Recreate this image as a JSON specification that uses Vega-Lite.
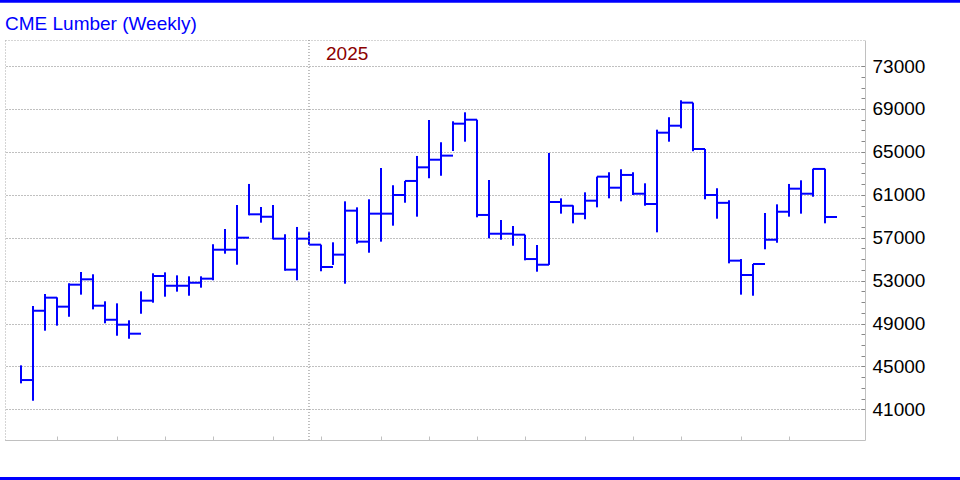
{
  "$schema": "https://vega.github.io/schema/vega-lite/v6.json",
  "width": 860,
  "height": 400,
  "autosize": {"type": "none"},
  "padding": {"left": 5, "top": 40, "right": 95, "bottom": 40},
  "background": "white",
  "title": {"text": "CME Lumber (Weekly)", "anchor": "start", "frame": "group", "color": "#0000ff", "font": "Liberation Sans", "fontSize": 19, "fontWeight": "normal", "baseline": "bottom", "offset": -53},
  "config": {"view": {"stroke": null}, "font": "Liberation Sans"},
  "datasets": {
    "bars": [
      {"week": 0, "high": 45100, "low": 43420, "close": 43730},
      {"week": 1, "high": 50630, "low": 41800, "close": 50190},
      {"week": 2, "high": 51750, "low": 48330, "close": 51410},
      {"week": 3, "high": 51440, "low": 48800, "close": 50570},
      {"week": 4, "high": 52750, "low": 49630, "close": 52620},
      {"week": 5, "high": 53800, "low": 51690, "close": 53120},
      {"week": 6, "high": 53590, "low": 50320, "close": 50660},
      {"week": 7, "high": 51070, "low": 49020, "close": 49350},
      {"week": 8, "high": 50880, "low": 47860, "close": 48890},
      {"week": 9, "high": 49300, "low": 47580, "close": 48050},
      {"week": 10, "high": 52000, "low": 49910, "close": 51130},
      {"week": 11, "high": 53680, "low": 50940, "close": 53430},
      {"week": 12, "high": 53770, "low": 51500, "close": 52520},
      {"week": 13, "high": 53490, "low": 51970, "close": 52520},
      {"week": 14, "high": 53400, "low": 51590, "close": 52800},
      {"week": 15, "high": 53400, "low": 52340, "close": 53180},
      {"week": 16, "high": 56390, "low": 53030, "close": 55880},
      {"week": 17, "high": 57810, "low": 55510, "close": 55880},
      {"week": 18, "high": 60050, "low": 54480, "close": 57000},
      {"week": 19, "high": 62010, "low": 59090, "close": 59180},
      {"week": 20, "high": 59860, "low": 58400, "close": 58960},
      {"week": 21, "high": 60050, "low": 56850, "close": 56910},
      {"week": 22, "high": 57320, "low": 53920, "close": 54020},
      {"week": 23, "high": 58000, "low": 53030, "close": 56910},
      {"week": 24, "high": 57560, "low": 56320, "close": 56350},
      {"week": 25, "high": 56350, "low": 53870, "close": 54270},
      {"week": 26, "high": 56570, "low": 54460, "close": 55420},
      {"week": 27, "high": 60390, "low": 52710, "close": 59520},
      {"week": 28, "high": 59830, "low": 56440, "close": 56630},
      {"week": 29, "high": 60580, "low": 55600, "close": 59240},
      {"week": 30, "high": 63500, "low": 56630, "close": 59240},
      {"week": 31, "high": 61890, "low": 58120, "close": 60980},
      {"week": 32, "high": 62290, "low": 60260, "close": 62290},
      {"week": 33, "high": 64620, "low": 58960, "close": 63560},
      {"week": 34, "high": 67970, "low": 62540, "close": 64270},
      {"week": 35, "high": 65900, "low": 62780, "close": 64650},
      {"week": 36, "high": 67850, "low": 65080, "close": 67630},
      {"week": 37, "high": 68690, "low": 65950, "close": 68000},
      {"week": 38, "high": 68000, "low": 58900, "close": 59120},
      {"week": 39, "high": 62380, "low": 56940, "close": 57370},
      {"week": 40, "high": 58650, "low": 56810, "close": 57370},
      {"week": 41, "high": 58090, "low": 56250, "close": 57280},
      {"week": 42, "high": 57280, "low": 54890, "close": 55010},
      {"week": 43, "high": 56320, "low": 53830, "close": 54480},
      {"week": 44, "high": 64900, "low": 54460, "close": 60330},
      {"week": 45, "high": 60670, "low": 59240, "close": 59980},
      {"week": 46, "high": 60020, "low": 58340, "close": 59230},
      {"week": 47, "high": 61230, "low": 58720, "close": 60450},
      {"week": 48, "high": 62690, "low": 59830, "close": 62690},
      {"week": 49, "high": 63100, "low": 60670, "close": 61660},
      {"week": 50, "high": 63380, "low": 60390, "close": 62850},
      {"week": 51, "high": 63100, "low": 60980, "close": 61100},
      {"week": 52, "high": 62070, "low": 59980, "close": 60140},
      {"week": 53, "high": 67070, "low": 57500, "close": 66790},
      {"week": 54, "high": 68230, "low": 65950, "close": 67440},
      {"week": 55, "high": 69810, "low": 67200, "close": 69590},
      {"week": 56, "high": 69590, "low": 65060, "close": 65270},
      {"week": 57, "high": 65270, "low": 60580, "close": 60980},
      {"week": 58, "high": 61610, "low": 58770, "close": 60250},
      {"week": 59, "high": 60490, "low": 54610, "close": 54860},
      {"week": 60, "high": 55010, "low": 51690, "close": 53520},
      {"week": 61, "high": 54550, "low": 51590, "close": 54550},
      {"week": 62, "high": 59300, "low": 55920, "close": 56810},
      {"week": 63, "high": 60110, "low": 56530, "close": 59420},
      {"week": 64, "high": 62010, "low": 58960, "close": 61570},
      {"week": 65, "high": 62350, "low": 59240, "close": 61100},
      {"week": 66, "high": 63430, "low": 60820, "close": 63410},
      {"week": 67, "high": 63430, "low": 58340, "close": 58930}
    ],
    "years": [{"week": 24, "year": "2025"}]
  },
  "resolve": {"axis": {"x": "independent", "y": "independent"}},
  "layer": [
    {
      "data": {"name": "bars"},
      "mark": {"type": "rule", "color": "#0000ff", "strokeWidth": 2},
      "encoding": {
        "x": {"field": "week", "type": "quantitative",
          "scale": {"domain": [-1.3333, 70.3333], "nice": false, "zero": false},
          "axis": {"orient": "bottom", "values": [3, 8, 12, 16, 21, 25, 30, 34, 38, 42, 47, 51, 55, 60, 64], "labels": false, "title": null, "grid": false, "tickSize": -4, "tickColor": "#c0c0c0", "domainColor": "#c0c0c0", "tickWidth": 1, "domainWidth": 1}},
        "y": {"field": "low", "type": "quantitative",
          "scale": {"domain": [38140, 75430], "nice": false, "zero": false},
          "axis": {"orient": "right", "values": [41000, 42000, 43000, 44000, 45000, 46000, 47000, 48000, 49000, 50000, 51000, 52000, 53000, 54000, 55000, 56000, 57000, 58000, 59000, 60000, 61000, 62000, 63000, 64000, 65000, 66000, 67000, 68000, 69000, 70000, 71000, 72000, 73000],
            "title": null, "tickSize": -4, "tickColor": "#888888", "tickWidth": 1, "domainColor": "#c0c0c0", "domainWidth": 1,
            "labelPadding": 11, "labelFontSize": 19, "labelColor": "#000000", "labelFont": "Liberation Sans", "labelOverlap": false,
            "labelExpr": "datum.value % 4000 === 1000 ? format(datum.value, 'd') : ''",
            "grid": true, "gridColor": "#808080", "gridDash": [1, 2], "gridWidth": 1,
            "gridOpacity": {"condition": {"test": "datum.value % 4000 === 1000", "value": 1}, "value": 0}}},
        "y2": {"field": "high"}
      }
    },
    {
      "data": {"name": "bars"},
      "mark": {"type": "tick", "orient": "horizontal", "color": "#0000ff", "size": 12, "thickness": 2, "xOffset": 6, "opacity": 1},
      "encoding": {
        "x": {"field": "week", "type": "quantitative",
          "scale": {"domain": [-1.3333, 70.3333], "nice": false, "zero": false},
          "axis": {"orient": "top", "labels": false, "ticks": false, "grid": false, "title": null, "domainDash": [1, 2], "domainColor": "#aaaaaa"}},
        "y": {"field": "close", "type": "quantitative",
          "scale": {"domain": [38140, 75430], "nice": false, "zero": false},
          "axis": {"orient": "left", "labels": false, "ticks": false, "grid": false, "title": null, "domainDash": [1, 2], "domainColor": "#aaaaaa"}}
      }
    },
    {
      "data": {"name": "years"},
      "mark": {"type": "rule", "color": "#808080", "strokeDash": [1, 2], "strokeWidth": 1},
      "encoding": {
        "x": {"field": "week", "type": "quantitative",
          "scale": {"domain": [-1.3333, 70.3333], "nice": false, "zero": false}, "axis": null}
      }
    },
    {
      "data": {"name": "years"},
      "mark": {"type": "text", "color": "#8b0000", "font": "Liberation Sans", "fontSize": 19, "align": "left", "baseline": "middle", "dx": 17},
      "encoding": {
        "x": {"field": "week", "type": "quantitative",
          "scale": {"domain": [-1.3333, 70.3333], "nice": false, "zero": false}, "axis": null},
        "y": {"datum": 74130, "type": "quantitative",
          "scale": {"domain": [38140, 75430], "nice": false, "zero": false}, "axis": null},
        "text": {"field": "year"}
      }
    },
    {
      "data": {"values": [{"edge": "top"}]},
      "mark": {"type": "rule", "color": "#0000ff", "strokeWidth": 3, "clip": false},
      "encoding": {
        "x": {"datum": -1.75, "type": "quantitative", "scale": {"domain": [-1.3333, 70.3333], "nice": false, "zero": false}, "axis": null},
        "x2": {"datum": 78.25},
        "y": {"datum": 79040, "type": "quantitative", "scale": {"domain": [38140, 75430], "nice": false, "zero": false}, "axis": null}
      }
    },
    {
      "data": {"values": [{"edge": "bottom"}]},
      "mark": {"type": "rule", "color": "#0000ff", "strokeWidth": 3, "clip": false},
      "encoding": {
        "x": {"datum": -1.75, "type": "quantitative", "scale": {"domain": [-1.3333, 70.3333], "nice": false, "zero": false}, "axis": null},
        "x2": {"datum": 78.25},
        "y": {"datum": 34550, "type": "quantitative", "scale": {"domain": [38140, 75430], "nice": false, "zero": false}, "axis": null}
      }
    }
  ]
}
